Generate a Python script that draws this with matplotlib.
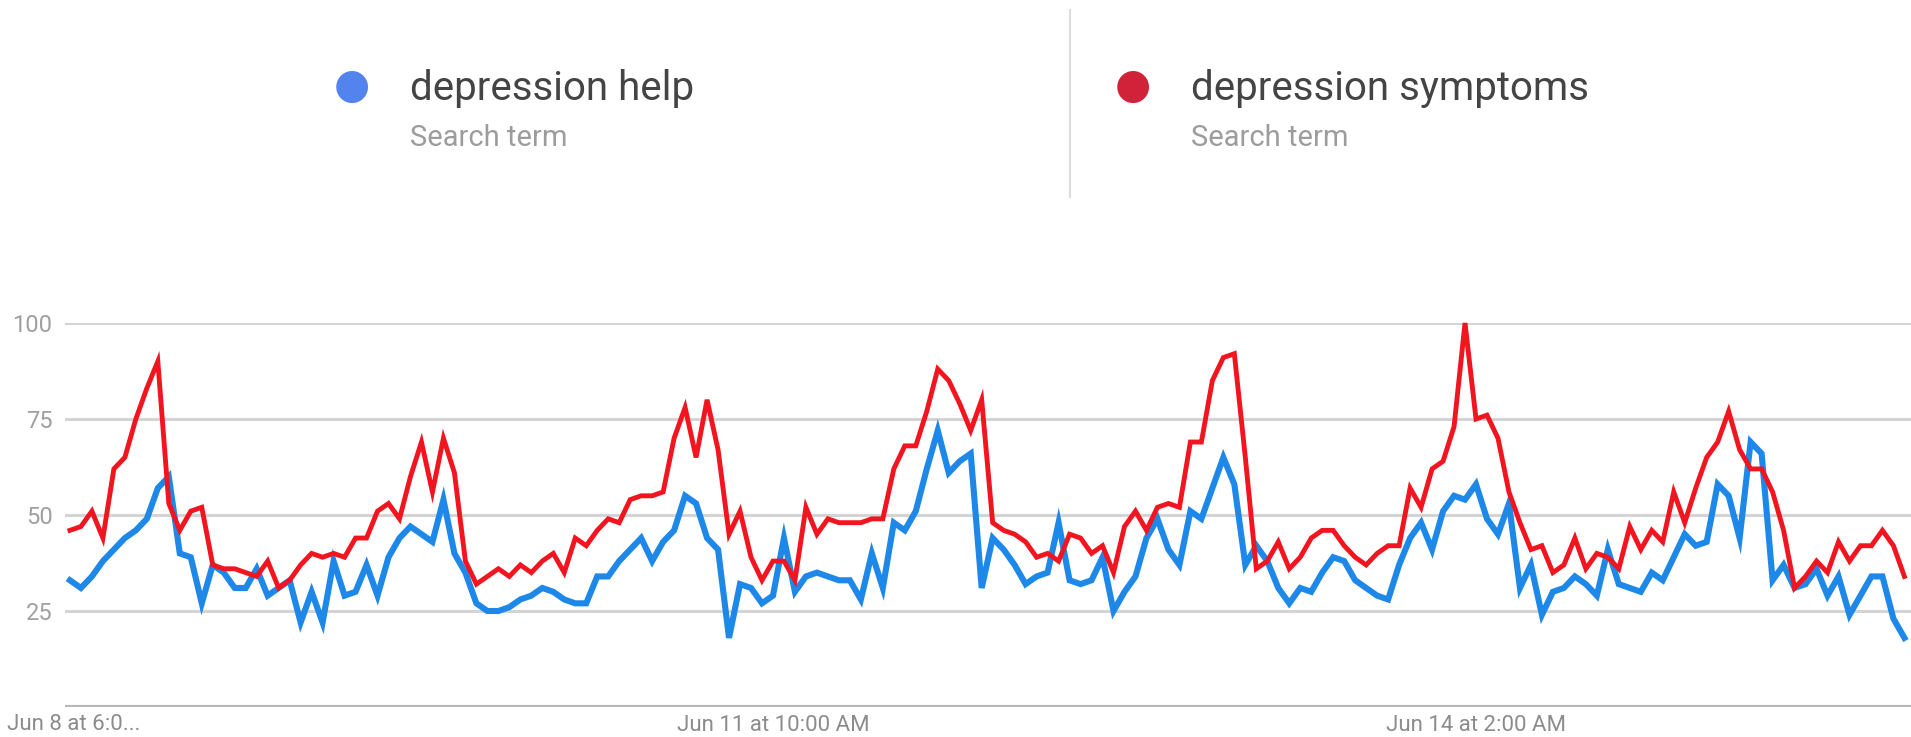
import numpy as np
import matplotlib
matplotlib.use("Agg")
import matplotlib.pyplot as plt

# hourly interest, Jun 8 6:00 PM onwards (168 points)
help_vals = [
    33, 31, 34, 38, 41, 44, 46, 49, 57, 60, 40, 39, 27, 37, 35, 31, 31, 36, 29, 31,
    33, 22, 30, 22, 38, 29, 30, 37, 29, 39, 44, 47, 45, 43, 54, 40, 35, 27, 25, 25,
    26, 28, 29, 31, 30, 28, 27, 27, 34, 34, 38, 41, 44, 38, 43, 46, 55, 53, 44, 41,
    18, 32, 31, 27, 29, 44, 30, 34, 35, 34, 33, 33, 28, 40, 31, 48, 46, 51, 62, 72,
    61, 64, 66, 31, 44, 41, 37, 32, 34, 35, 48, 33, 32, 33, 39, 25, 30, 34, 44, 49,
    41, 37, 51, 49, 57, 65, 58, 37, 42, 38, 31, 27, 31, 30, 35, 39, 38, 33, 31, 29,
    28, 37, 44, 48, 41, 51, 55, 54, 58, 49, 45, 53, 31, 37, 24, 30, 31, 34, 32, 29,
    41, 32, 31, 30, 35, 33, 39, 45, 42, 43, 58, 55, 44, 69, 66, 33, 37, 31, 32, 36,
    29, 34, 24, 29, 34, 34, 23, 18,
]
symptoms_vals = [
    46, 47, 51, 44, 62, 65, 75, 83, 90, 53, 46, 51, 52, 37, 36, 36, 35, 34, 38, 31,
    33, 37, 40, 39, 40, 39, 44, 44, 51, 53, 49, 60, 69, 56, 70, 61, 38, 32, 34, 36,
    34, 37, 35, 38, 40, 35, 44, 42, 46, 49, 48, 54, 55, 55, 56, 70, 78, 65, 80, 67,
    45, 51, 39, 33, 38, 38, 33, 52, 45, 49, 48, 48, 48, 49, 49, 62, 68, 68, 77, 88,
    85, 79, 72, 80, 48, 46, 45, 43, 39, 40, 38, 45, 44, 40, 42, 35, 47, 51, 46, 52,
    53, 52, 69, 69, 85, 91, 92, 65, 36, 38, 43, 36, 39, 44, 46, 46, 42, 39, 37, 40,
    42, 42, 57, 52, 62, 64, 73, 100, 75, 76, 70, 56, 48, 41, 42, 35, 37, 44, 36, 40,
    39, 36, 47, 41, 46, 43, 56, 48, 57, 65, 69, 77, 67, 62, 62, 56, 46, 31, 34, 38,
    35, 43, 38, 42, 42, 46, 42, 34,
]
tick_idx = [0, 64, 128]
tick_labels = ["Jun 8 at 6:0...", "Jun 11 at 10:00 AM", "Jun 14 at 2:00 AM"]
y_ticks = [25, 50, 75, 100]

blue = "#1e88e8"
red = "#f2141e"

plt.rcParams["font.family"] = ["Roboto", "DejaVu Sans"]

fig = plt.figure(figsize=(19.11, 7.37), dpi=100)
ax = fig.add_axes([65 / 1911, 30 / 737, 1 - 65 / 1911, 384 / 737])

x = np.arange(len(help_vals))
ax.plot(x, help_vals, color=blue, lw=4.4, solid_joinstyle="miter", clip_on=False, zorder=3)
ax.plot(x, symptoms_vals, color=red, lw=3.5, solid_joinstyle="miter", clip_on=False, zorder=4)

ax.set_xlim(-0.45, 167.6)
ax.set_ylim(0, 100)
for s in ax.spines.values():
    s.set_visible(False)
for v in y_ticks:
    ax.axhline(v, color="#d4d4d4", lw=2.2, zorder=1)
ax.axhline(0, color="#b8b8b8", lw=3.0, zorder=1)

ax.set_yticks(y_ticks)
ax.set_yticklabels([str(v) for v in y_ticks], color="#a0a0a0", fontsize=17)
ax.tick_params(axis="y", length=0, pad=9)
ax.set_xticks([])
for i, lab in zip(tick_idx, tick_labels):
    if i == 0:
        fig.text(7 / 1911, 1 - 725 / 737, lab, ha="left", va="center", color="#8c8c8c", fontsize=16)
    else:
        ax.text(i, -4.8, lab, ha="center", va="center", color="#8c8c8c", fontsize=16)

# legend header
fig.add_artist(plt.Line2D([1070 / 1911, 1070 / 1911], [1 - 10 / 737, 1 - 197 / 737],
                          color="#dcdcdc", lw=1.5))
legend = [("depression help", "#5383ec", 352, 410), ("depression symptoms", "#d2223a", 1133, 1191)]
for name, col, dot_x, txt_x in legend:
    fig.text(dot_x / 1911, 1 - 86 / 737, "\u25cf", color=col, fontsize=30,
             ha="center", va="center", family="DejaVu Sans")
    fig.text(txt_x / 1911, 1 - 88 / 737, name, color="#444444", fontsize=29,
             ha="left", va="center")
    fig.text(txt_x / 1911, 1 - 138 / 737, "Search term", color="#9c9c9c", fontsize=21,
             ha="left", va="center")

fig.savefig("out.png", dpi=100, facecolor="white")
